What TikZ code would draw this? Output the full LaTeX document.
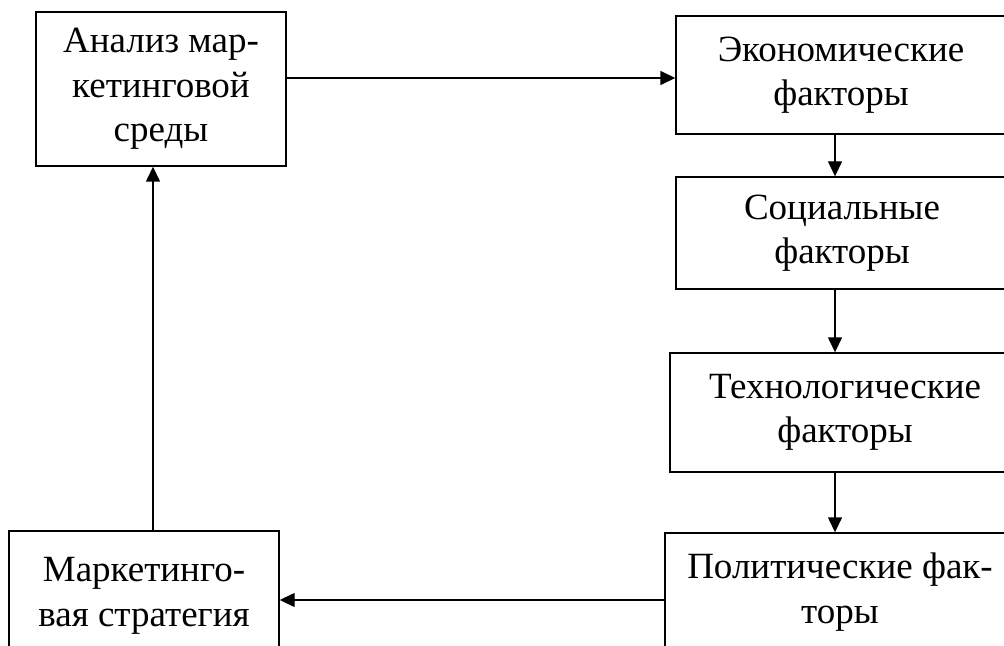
\documentclass[tikz,border=0pt]{standalone}
\usepackage{fontspec}
\setmainfont{Liberation Serif}
\usetikzlibrary{arrows.meta,calc}

\begin{document}
\begin{tikzpicture}[x=0.5pt,y=-0.5pt,
	block/.style={rectangle, draw, line width=0.7pt, inner sep=0pt, align=center,
		font=\fontsize{18.5}{22.3}\selectfont},
	flow/.style={->,>={Triangle[length=7.5pt,width=7pt]}, line width=0.7pt}]

	\useasboundingbox (0,0) rectangle (1004,646);
	\clip (0,0) rectangle (1004,646);

	\node[block, minimum width=125pt, minimum height=77pt] (analiz) at (161,89) {Анализ мар-\\кетинговой\\среды};
	\node[block, minimum width=165pt, minimum height=59pt] (econ) at (841,75) {Экономические\\факторы};
	\node[block, minimum width=166pt, minimum height=56pt] (soc) at (842,233) {Социальные\\факторы};
	\node[block, minimum width=175pt, minimum height=59.5pt] (tech) at (845,412.5) {Технологические\\факторы};
	\node[block, minimum width=175pt, minimum height=59pt] (pol) at (840,592) {Политические фак-\\торы};
	\node[block, minimum width=135pt, minimum height=65pt] (strat) at (144,596) {Маркетинго-\\вая стратегия};

	\coordinate (col) at (835,0);
	\coordinate (row) at (0,600);
	\coordinate (left) at (153,0);

	\draw[flow] (analiz.east |- 0,78) -- (econ.west |- 0,78);
	\draw[flow] (col |- econ.south) -- (col |- soc.north);
	\draw[flow] (col |- soc.south) -- (col |- tech.north);
	\draw[flow] (col |- tech.south) -- (col |- pol.north);
	\draw[flow] (pol.west |- row) -- (strat.east |- row);
	\draw[flow] (left |- strat.north) -- (left |- analiz.south);

\end{tikzpicture}
\end{document}
